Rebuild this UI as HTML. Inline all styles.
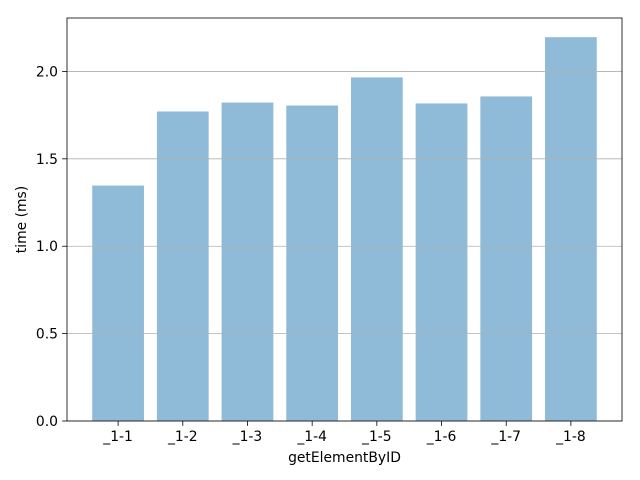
<!DOCTYPE html>
<html>
<head>
<meta charset="utf-8">
<style>
html,body{margin:0;padding:0;background:#fff;}
svg{display:block;font-family:"DejaVu Sans","Liberation Sans",sans-serif;}
</style>
</head>
<body>
<svg id="chart" width="640" height="480" viewBox="0 0 640 480"></svg>
<script>
const categories = ["_1-1","_1-2","_1-3","_1-4","_1-5","_1-6","_1-7","_1-8"];
const values = [1.347, 1.771, 1.822, 1.805, 1.966, 1.817, 1.857, 2.196];
const yTicks = [0.0, 0.5, 1.0, 1.5, 2.0];
const yTickLabels = ["0.0","0.5","1.0","1.5","2.0"];

const svg = document.getElementById('chart');
const NS = 'http://www.w3.org/2000/svg';
const L = 67, R = 622, T = 18, B = 421;
const FS = 13.9;
const yMax = Math.max(...values) * 1.05;
const n = categories.length;
const xMin = -0.4 - 0.05 * (n - 1 + 0.8), xMax = n - 1 + 0.4 + 0.05 * (n - 1 + 0.8);
function xs(v){ return L + (v - xMin) / (xMax - xMin) * (R - L); }
function ys(v){ return B - v / yMax * (B - T); }
function mk(tag, attrs, parent){
  const e = document.createElementNS(NS, tag);
  for (const k in attrs) e.setAttribute(k, attrs[k]);
  (parent || svg).appendChild(e);
  return e;
}

values.forEach((v, i) => {
  const r = mk('rect', {x: xs(i - 0.4), y: ys(v), width: xs(i + 0.4) - xs(i - 0.4), height: ys(0) - ys(v), fill: '#8fbbd9'});
  
  
});

yTicks.forEach((t, i) => {
  const y = ys(t);
  const g = mk('line', {x1: L, x2: R, y1: y, y2: y, stroke: '#b0b0b0', 'stroke-width': 0.8});
  
  
  mk('line', {x1: L - 4.9, x2: L, y1: y, y2: y, stroke: '#000', 'stroke-width': 0.8});
  const tx = mk('text', {x: L - 9, y: y + 5, 'text-anchor': 'end', 'font-size': FS, fill: '#000'});
  tx.textContent = yTickLabels[i];
  
  
});

categories.forEach((c, i) => {
  const x = xs(i);
  mk('line', {x1: x, x2: x, y1: B, y2: B + 4.9, stroke: '#000', 'stroke-width': 0.8});
  const tx = mk('text', {x: x, y: B + 20, 'text-anchor': 'middle', 'font-size': FS, fill: '#000'});
  tx.textContent = c;
  
  
});

const frame = mk('rect', {x: L, y: T, width: R - L, height: B - T, fill: 'none', stroke: '#000', 'stroke-width': 0.8});



const xt = mk('text', {x: (L + R) / 2, y: 462, 'text-anchor': 'middle', 'font-size': FS, fill: '#000'});
xt.textContent = 'getElementByID';



const cy = (T + B) / 2;
const yt = mk('text', {x: 26, y: cy, 'text-anchor': 'middle', 'font-size': FS, fill: '#000', transform: 'rotate(-90 26 ' + cy + ')'});
yt.textContent = 'time (ms)';


</script>
</body>
</html>
